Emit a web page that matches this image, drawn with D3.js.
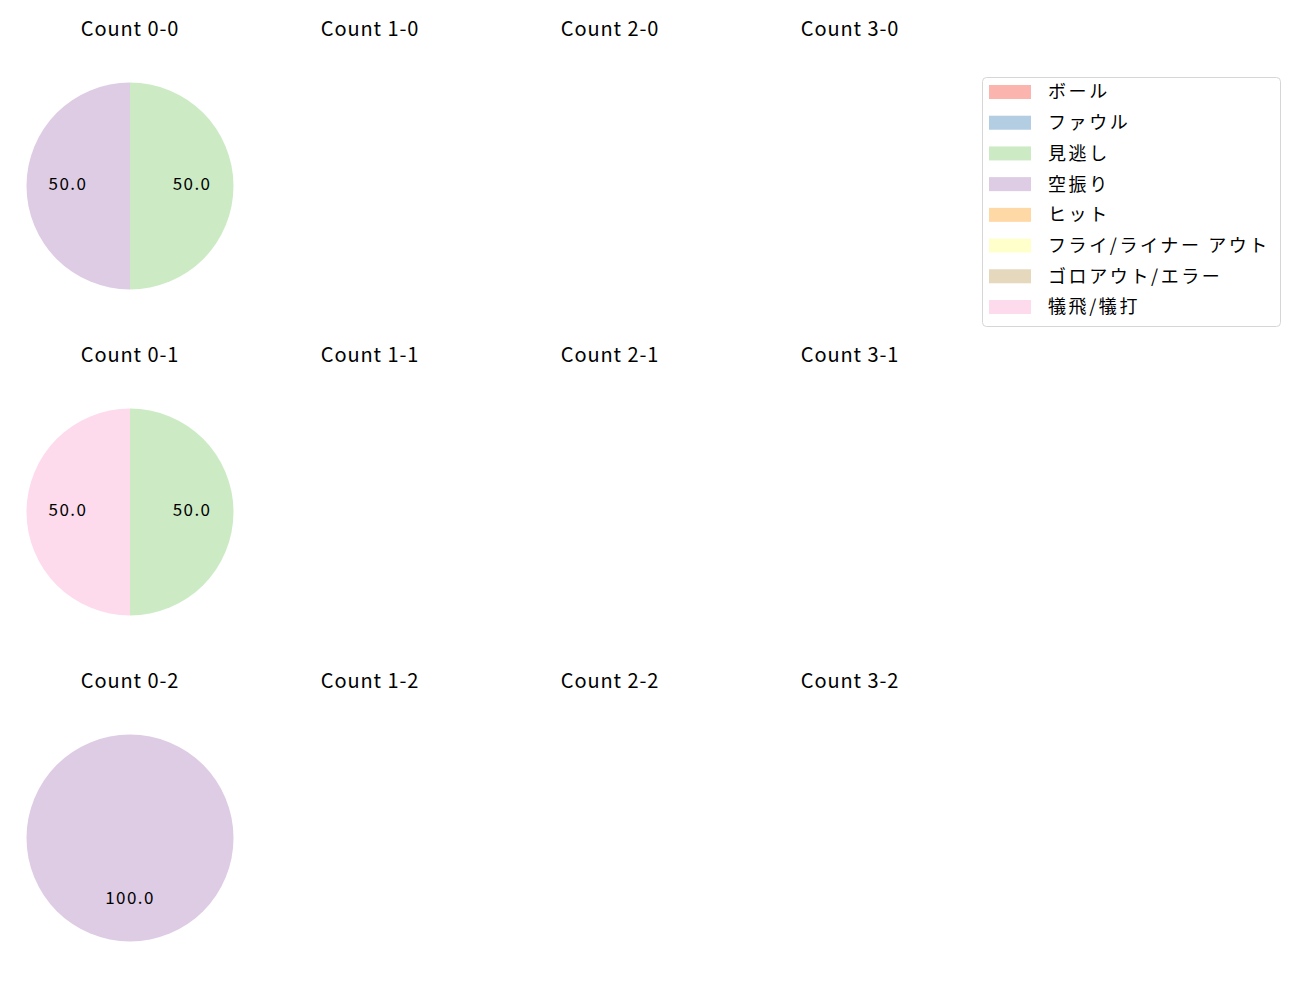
<!DOCTYPE html>
<html><head><meta charset="utf-8">
<script src="https://cdn.jsdelivr.net/npm/d3@7"></script>
<style>body{margin:0;background:#fff;} svg{display:block;}</style>
</head><body>
<svg id="chart" width="1300" height="1000"></svg>
<script>
const categories = ["ボール","ファウル","見逃し","空振り","ヒット","フライ/ライナー アウト","ゴロアウト/エラー","犠飛/犠打"];
const colors = ["#fbb4ae","#b3cde3","#ccebc5","#decbe4","#fed9a6","#ffffcc","#e5d8bd","#fddaec"];
const balls = [0,1,2,3];
const strikes = [0,1,2];
// values per count, in category order (percent)
const count00 = [0,0,50,50,0,0,0,0];
const count01 = [0,0,50,0,0,0,0,50];
const count02 = [0,0,0,100,0,0,0,0];
const pieData = {"0-0": count00, "0-1": count01, "0-2": count02};

const svg = d3.select("#chart");
const colX = d3.scaleLinear().domain([0,3]).range([130, 850]);
const rowY = d3.scaleLinear().domain([0,2]).range([186, 838]);
const R = 103.5;
const pie = d3.pie().sort(null).value(d => d.v).startAngle(0).endAngle(2*Math.PI);
const arc = d3.arc().innerRadius(0).outerRadius(R);
const labelArc = d3.arc().innerRadius(R*0.6).outerRadius(R*0.6);
const font = "'Noto Sans CJK JP', 'Noto Sans', sans-serif";

strikes.forEach(s => {
  balls.forEach(b => {
    const cx = colX(b), cy = rowY(s);
    const key = b + "-" + s;
    svg.append("text").attr("x", cx).attr("y", cy - 155)
      .attr("text-anchor","middle").attr("dominant-baseline","middle")
      .attr("font-family", font).attr("font-size", 20).attr("letter-spacing", 0.9).attr("fill","#000")
      .text("Count " + key);
    const vals = pieData[key];
    if (!vals) return;
    const data = vals.map((v,i) => ({v, i})).filter(d => d.v > 0);
    const g = svg.append("g").attr("transform", `translate(${cx},${cy})`);
    const arcs = pie(data);
    g.selectAll("path").data(arcs).join("path")
      .attr("d", arc).attr("fill", d => colors[d.data.i]);
    g.selectAll("text").data(arcs).join("text")
      .attr("transform", d => `translate(${labelArc.centroid(d)})`)
      .attr("dy", -0.5)
      .attr("text-anchor","middle").attr("dominant-baseline","middle")
      .attr("font-family", font).attr("font-size", 17).attr("letter-spacing", 1.4).attr("fill","#000")
      .text(d => d.data.v.toFixed(1));
  });
});

// legend
const lg = svg.append("g");
lg.append("rect").attr("x", 982.5).attr("y", 77.5).attr("width", 298).attr("height", 249)
  .attr("rx", 4).attr("fill","#fff").attr("stroke","#d6d6d6");
const ly = d3.scaleLinear().domain([0,7]).range([92, 307]);
categories.forEach((c,i) => {
  lg.append("rect").attr("x", 989).attr("y", ly(i) - 7).attr("width", 42).attr("height", 14)
    .attr("fill", colors[i]);
  lg.append("text").attr("x", 1048).attr("y", ly(i) + 1.5).attr("dominant-baseline","middle")
    .attr("font-family", font).attr("font-size", 18).attr("letter-spacing", 2.6).attr("fill","#000")
    .text(c);
});
</script>
</body></html>
